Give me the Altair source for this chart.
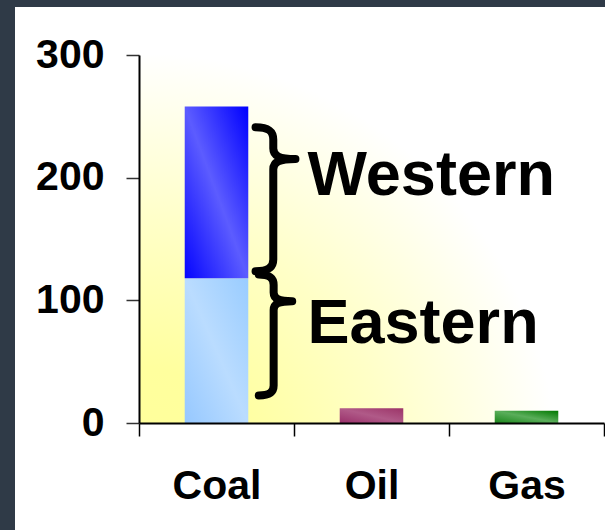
import altair as alt
import pandas as pd

# ---- data ----
categories = ["Coal", "Oil", "Gas"]
bar_cats = ["Coal", "Coal", "Oil", "Gas"]
bar_series = ["Eastern", "Western", "Oil", "Gas"]
bar_values = [118, 140, 12, 10]

label_texts = ["Western", "Eastern"]
label_baselines = [186, 65]          # value where each label's baseline sits
brace_lo = [122.5, 21.5]             # lower end of each brace (axis units)
brace_hi = [243, 122.5]              # upper end of each brace (axis units)

y_ticks = [0, 100, 200, 300]

# ---- build a stacked table ----
rows = []
base = {}
for c, s, v in zip(bar_cats, bar_series, bar_values):
    lo = base.get(c, 0)
    rows.append({"cat": c, "series": s, "lo": lo, "hi": lo + v})
    base[c] = lo + v
bars_df = pd.DataFrame(rows)

ann_df = pd.DataFrame({
    "cat": ["Coal", "Coal"],
    "text": label_texts,
    "base": label_baselines,
    "lo": brace_lo,
    "hi": brace_hi,
})

W, H = 465, 368
FONT = "Liberation Sans"

xscale = alt.Scale(domain=categories, paddingInner=0, paddingOuter=0)
yscale = alt.Scale(domain=[0, 300], nice=False)

x_enc = alt.X("cat:N", scale=xscale, sort=categories,
              axis=alt.Axis(title=None, labelAngle=0, tickBand="extent",
                            labelFontSize=41, labelFont=FONT, labelFontWeight="bold",
                            labelColor="black", labelBaseline="alphabetic",
                            labelPadding=62, tickSize=13, tickColor="black",
                            tickWidth=1.5, domainColor="black", domainWidth=2,
                            grid=False, zindex=1))
y_axis = alt.Axis(title=None, values=y_ticks, labelFontSize=41, labelFont=FONT,
                  labelFontWeight="bold", labelColor="black", labelPadding=22,
                  tickSize=13, tickColor="#333333", tickWidth=1.5,
                  domainColor="black", domainWidth=2, grid=False, zindex=1)


def grad(c_edge1, c_mid, c_edge2):
    return alt.Gradient(gradient="linear", x1=0, y1=1, x2=1, y2=0,
                        stops=[alt.GradientStop(color=c_edge1, offset=0),
                               alt.GradientStop(color=c_mid, offset=0.5),
                               alt.GradientStop(color=c_edge2, offset=1)])


one = pd.DataFrame({"k": [0]})

# white slide panel
panel = alt.Chart(one).mark_rect(color="white").encode(
    x=alt.value(-124), x2=alt.value(W + 1), y=alt.value(-48), y2=alt.value(H + 107)
)

# yellow-to-white plot background, radiating from the lower-left corner
plot_bg = alt.Chart(one).mark_rect(
    color=alt.RadialGradient(gradient="radial", x1=0, y1=1, r1=0,
                             x2=0, y2=1, r2=0.9,
                             stops=[alt.GradientStop(color="#FFFF99", offset=0),
                                    alt.GradientStop(color="#FFFF9E", offset=0.25),
                                    alt.GradientStop(color="#FFFFC8", offset=0.6),
                                    alt.GradientStop(color="#FFFFFF", offset=1)])
).encode(x=alt.value(0), x2=alt.value(W), y=alt.value(0), y2=alt.value(H))

fills = {
    "Eastern": grad("#96C8FF", "#BADCFF", "#99CCFF"),
    "Western": grad("#0505FF", "#5C5CFF", "#0000FF"),
    "Oil": grad("#99306A", "#B05A88", "#9C3468"),
    "Gas": grad("#1A851A", "#5AAE5A", "#007800"),
}

bar_layers = []
for s in bar_series:
    bar_layers.append(
        alt.Chart(bars_df).transform_filter(alt.datum.series == s)
        .mark_bar(color=fills[s], width=alt.RelativeBandSize(0.41))
        .encode(x=x_enc, y=alt.Y("hi:Q", scale=yscale, axis=y_axis), y2="lo:Q")
    )

brace_path = ("M -0.27 -0.97 C -0.10 -0.97 -0.03 -0.92 -0.03 -0.80 "
              "L -0.03 -0.68 C -0.03 -0.58 0.05 -0.54 0.27 -0.54 "
              "C 0.05 -0.54 -0.03 -0.50 -0.03 -0.40 "
              "L -0.03 0.82 C -0.03 0.93 -0.10 0.98 -0.27 0.98")

braces = alt.Chart(ann_df).transform_calculate(
    mid="(datum.lo + datum.hi) / 2",
    sz=f"pow((datum.hi - datum.lo) * {H} / 300, 2)",
).mark_point(shape=brace_path, filled=False, stroke="black", strokeWidth=8,
             strokeCap="round", strokeJoin="round", opacity=1, xOffset=59).encode(
    x=alt.X("cat:N", scale=xscale, sort=categories),
    y=alt.Y("mid:Q", scale=yscale),
    size=alt.Size("sz:Q", scale=None),
)

labels = alt.Chart(ann_df).mark_text(
    align="left", baseline="alphabetic", dx=91, fontSize=63,
    font=FONT, fontWeight="bold", color="black"
).encode(
    x=alt.X("cat:N", scale=xscale, sort=categories),
    y=alt.Y("base:Q", scale=yscale),
    text="text:N",
)

chart = alt.layer(panel, plot_bg, *bar_layers, braces, labels).properties(
    width=W, height=H,
    autosize=alt.AutoSizeParams(type="none"),
    padding={"left": 139, "top": 55, "right": 1, "bottom": 107},
    background="#2F3A47",
).configure_view(stroke=None)

chart.save("out.html", embed_options={"renderer": "svg", "actions": False})
